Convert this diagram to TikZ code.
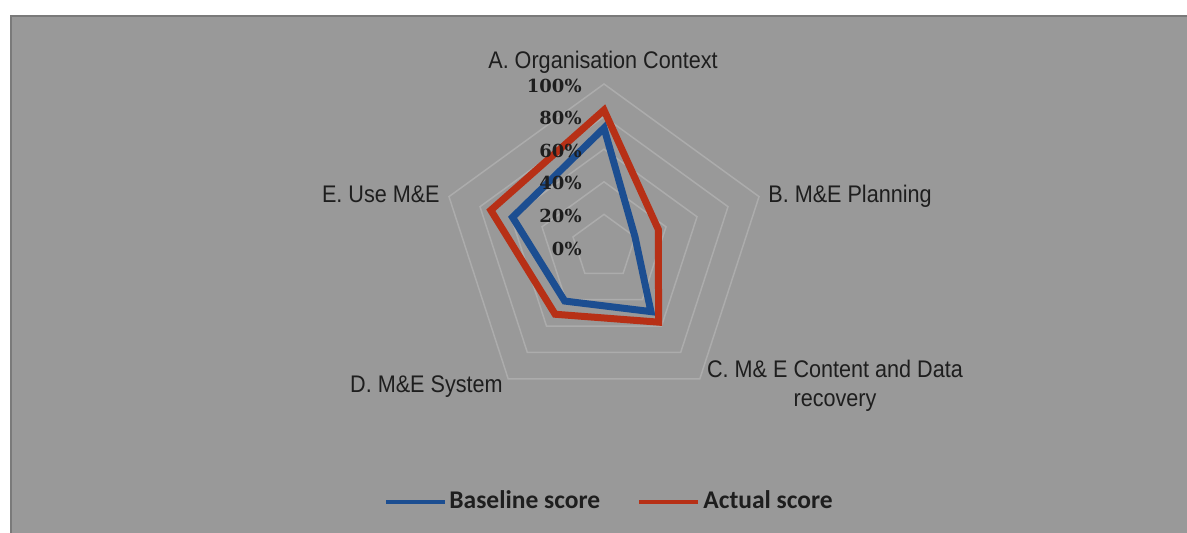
\documentclass[tikz,border=0pt]{standalone}
\usepackage{fontspec}
\setmainfont{Liberation Sans}
\newfontfamily\TickFont{DejaVu Serif}
\newfontfamily\LegendFont{Carlito}
\usepackage{tikz}
\usepackage{xcolor}
\definecolor{ColBack}{RGB}{153,153,153}
\definecolor{ColFrame}{RGB}{122,122,122}
\definecolor{ColGrid}{RGB}{172,172,172}
\definecolor{ColText}{RGB}{30,30,30}
\definecolor{ColBase}{RGB}{28,78,145}
\definecolor{ColActual}{RGB}{183,48,22}
\tikzstyle{GridRing}=[ColGrid,line width=0.75pt]
\tikzstyle{SeriesBase}=[ColBase,line width=3.5pt,line join=miter]
\tikzstyle{SeriesActual}=[ColActual,line width=3.5pt,line join=miter]
\tikzstyle{AxisLabel}=[inner sep=0pt,text=ColText,font=\fontsize{12}{14}\selectfont,
xscale=0.9,transform shape]
\tikzstyle{TickLabel}=[inner sep=0pt,anchor=east,text=ColText,
font=\TickFont\bfseries\fontsize{9}{11}\selectfont]
\tikzstyle{LegendLabel}=[inner sep=0pt,anchor=base west,text=ColText,
font=\LegendFont\bfseries\fontsize{12.75}{15}\selectfont]
\tikzstyle{LegendLine}=[line width=2pt]

\begin{document}
\begin{tikzpicture}[x=0.5pt,y=0.5pt]
        \useasboundingbox (0,0) rectangle (1187,533);
        \fill[white] (0,0) rectangle (1187,533);
        \draw[fill=ColBack,draw=ColFrame,line width=1pt] (11,-10) rectangle (1200,517);
        % radar grid and the two series
        \begin{scope}[shift={(604,286)},scale=1.63]
        \draw[GridRing] (90:20)--(18:20)--(-54:20)--(-126:20)--(162:20)--cycle;
        \draw[GridRing] (90:40)--(18:40)--(-54:40)--(-126:40)--(162:40)--cycle;
        \draw[GridRing] (90:60)--(18:60)--(-54:60)--(-126:60)--(162:60)--cycle;
        \draw[GridRing] (90:80)--(18:80)--(-54:80)--(-126:80)--(162:80)--cycle;
        \draw[GridRing] (90:100)--(18:100)--(-54:100)--(-126:100)--(162:100)--cycle;
        \coordinate (bA) at (90:73);
        \coordinate (bB) at (18:20);
        \coordinate (bC) at (-54:49);
        \coordinate (bD) at (-126:41);
        \coordinate (bE) at (162:59);
        \coordinate (aA) at (90:84);
        \coordinate (aB) at (18:35);
        \coordinate (aC) at (-54:57);
        \coordinate (aD) at (-126:51);
        \coordinate (aE) at (162:73);
        \draw[SeriesBase] (bA)--(bB)--(bC)--(bD)--(bE)--cycle;
        \draw[SeriesActual] (aA)--(aB)--(aC)--(aD)--(aE)--cycle;
        \end{scope}
        % scale labels
        \node[TickLabel](t0) at (582,284.5){0\%};
        \node[TickLabel](t20) at (582,317.1){20\%};
        \node[TickLabel](t40) at (582,349.7){40\%};
        \node[TickLabel](t60) at (582,382.3){60\%};
        \node[TickLabel](t80) at (582,414.9){80\%};
        \node[TickLabel](t100) at (582,447.5){100\%};
        % axis labels
        \node[AxisLabel,anchor=base](labA) at (603,464){A. Organisation Context};
        \node[AxisLabel,anchor=base west](labB) at (768,330){B. M\&E Planning};
        \node[AxisLabel,anchor=base](labC) at (835,155){C. M\& E Content and Data};
        \node[AxisLabel,anchor=base](labCr) at (835,126){recovery};
        \node[AxisLabel,anchor=base east](labD) at (503,140){D. M\&E System};
        \node[AxisLabel,anchor=base east](labE) at (440,330){E. Use M\&E};
        % legend
        \coordinate (legBa) at (386,31);
        \coordinate (legBb) at (445,31);
        \coordinate (legAa) at (639,31);
        \coordinate (legAb) at (698,31);
        \draw[LegendLine,ColBase](legBa)--(legBb);
        \draw[LegendLine,ColActual](legAa)--(legAb);
        \node[LegendLabel](legB) at (449,24){Baseline score};
        \node[LegendLabel](legA) at (703,24){Actual score};
    \end{tikzpicture}
\end{document}
